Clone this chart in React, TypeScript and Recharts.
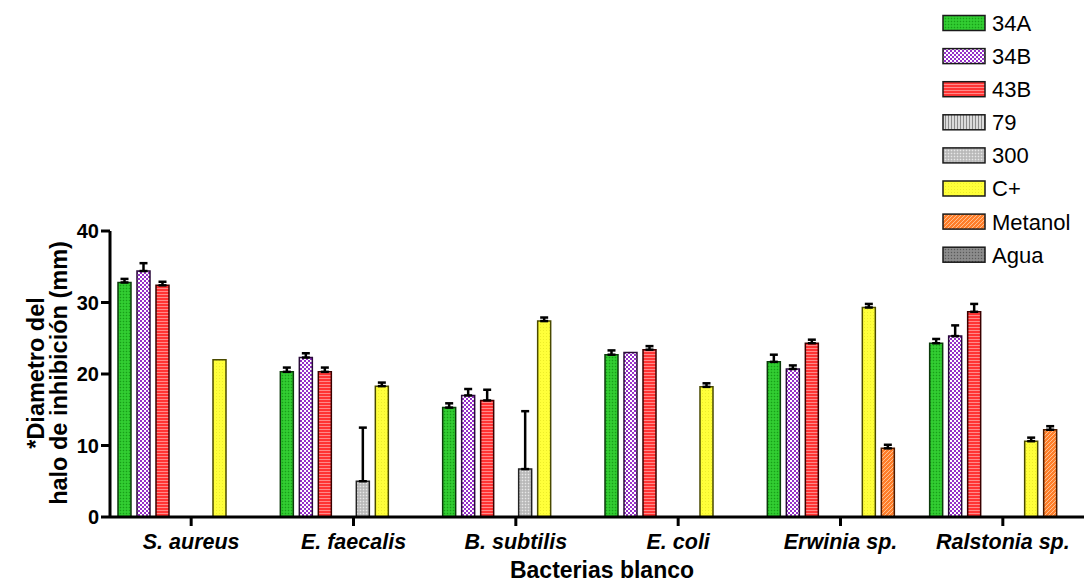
import React from 'react';
import { BarChart, Bar, XAxis, YAxis, ErrorBar } from 'recharts';

const categories = ['S. aureus', 'E. faecalis', 'B. subtilis', 'E. coli', 'Erwinia sp.', 'Ralstonia sp.'];

const values34A = [32.8, 20.3, 15.3, 22.7, 21.7, 24.3];
const err34A = [0.5, 0.6, 0.6, 0.6, 1.0, 0.6];
const values34B = [34.4, 22.3, 17.0, 23.0, 20.7, 25.3];
const err34B = [1.1, 0.6, 0.9, null, 0.5, 1.5];
const values43B = [32.4, 20.3, 16.3, 23.4, 24.3, 28.7];
const err43B = [0.5, 0.6, 1.5, 0.5, 0.5, 1.1];
const values79 = [null, null, null, null, null, null];
const err79 = [null, null, null, null, null, null];
const values300 = [null, 5.0, 6.7, null, null, null];
const err300 = [null, 7.5, 8.1, null, null, null];
const valuesCpos = [22.0, 18.3, 27.4, 18.2, 29.3, 10.6];
const errCpos = [null, 0.5, 0.5, 0.5, 0.5, 0.5];
const valuesMetanol = [null, null, null, null, 9.6, 12.2];
const errMetanol = [null, null, null, null, 0.5, 0.5];
const valuesAgua = [null, null, null, null, null, null];
const errAgua = [null, null, null, null, null, null];

const yTicks = [0, 10, 20, 30, 40];

const series = [
  { key: '34A', values: values34A, errs: err34A, fill: 'url(#p34A)', stroke: '#0b3a0b' },
  { key: '34B', values: values34B, errs: err34B, fill: 'url(#p34B)', stroke: '#2a0a3a' },
  { key: '43B', values: values43B, errs: err43B, fill: 'url(#p43B)', stroke: '#3a0000' },
  { key: '79', values: values79, errs: err79, fill: 'url(#p79)', stroke: '#222222' },
  { key: '300', values: values300, errs: err300, fill: 'url(#p300)', stroke: '#222222' },
  { key: 'C+', values: valuesCpos, errs: errCpos, fill: 'url(#pCpos)', stroke: '#4a4a00' },
  { key: 'Metanol', values: valuesMetanol, errs: errMetanol, fill: 'url(#pMet)', stroke: '#4a1a00' },
  { key: 'Agua', values: valuesAgua, errs: errAgua, fill: 'url(#pAgua)', stroke: '#222222' },
];

const data = categories.map((name, i) => {
  const row: any = { name };
  series.forEach((s) => {
    row[s.key] = s.values[i];
    row[s.key + '_err'] = s.errs[i] == null ? null : [0, s.errs[i]];
  });
  return row;
});

const FONT = '"Liberation Sans", Arial, Helvetica, sans-serif';

const Patterns = () => (
  <defs>
    <pattern id="p34A" width="3" height="3" patternUnits="userSpaceOnUse">
      <rect width="3" height="3" fill="#2bc62b" />
      <rect x="0" y="0" width="1" height="1" fill="#1a9a1a" />
      <rect x="1.5" y="1.5" width="1" height="1" fill="#4ade4a" />
    </pattern>
    <pattern id="p34B" width="4" height="4" patternUnits="userSpaceOnUse">
      <rect width="4" height="4" fill="#ffffff" />
      <rect x="0" y="0" width="2" height="2" fill="#9530c8" />
      <rect x="2" y="2" width="2" height="2" fill="#9530c8" />
    </pattern>
    <pattern id="p43B" width="3" height="3" patternUnits="userSpaceOnUse">
      <rect width="3" height="3" fill="#ff3434" />
      <rect x="0" y="0" width="3" height="1" fill="#ff8a8a" />
    </pattern>
    <pattern id="p79" width="3" height="3" patternUnits="userSpaceOnUse">
      <rect width="3" height="3" fill="#dcdcdc" />
      <rect x="0" y="0" width="1" height="3" fill="#8c8c8c" />
    </pattern>
    <pattern id="p300" width="3" height="3" patternUnits="userSpaceOnUse">
      <rect width="3" height="3" fill="#c4c4c4" />
      <rect x="0" y="0" width="1" height="1" fill="#e8e8e8" />
      <rect x="1.5" y="1.5" width="1" height="1" fill="#9a9a9a" />
    </pattern>
    <pattern id="pCpos" width="3" height="3" patternUnits="userSpaceOnUse">
      <rect width="3" height="3" fill="#ffff3a" />
      <rect x="0" y="0" width="1" height="1" fill="#ecec2a" />
    </pattern>
    <pattern id="pMet" width="4" height="4" patternUnits="userSpaceOnUse">
      <rect width="4" height="4" fill="#ff7e2a" />
      <path d="M0,4 L4,0 M-1,1 L1,-1 M3,5 L5,3" stroke="#ffc090" strokeWidth="1" />
    </pattern>
    <pattern id="pAgua" width="3" height="3" patternUnits="userSpaceOnUse">
      <rect width="3" height="3" fill="#858585" />
      <rect x="0" y="0" width="1" height="1" fill="#5a5a5a" />
      <rect x="1.5" y="1.5" width="1" height="1" fill="#a0a0a0" />
    </pattern>
  </defs>
);

const LegendBlock = () => (
  <g>
    {series.map((s, i) => {
      const cy = 23 + i * 33.1;
      return (
        <g key={s.key}>
          <rect x={943} y={cy - 7.5} width={42} height={15} fill={s.fill} stroke="#1a1a1a" strokeWidth={1.5} />
          <text x={992} y={cy} dy="0.36em" fontSize={22} fontFamily={FONT} fill="#000">
            {s.key}
          </text>
        </g>
      );
    })}
  </g>
);

const AxisTitles = () => (
  <g fontFamily={FONT} fontWeight="bold" fill="#000">
    <text transform="translate(44,373) rotate(-90)" textAnchor="middle" fontSize={23.5}>
      *Diametro del
    </text>
    <text transform="translate(67,373) rotate(-90)" textAnchor="middle" fontSize={23.5}>
      halo de inhibición (mm)
    </text>
    <text x={602} y={578} textAnchor="middle" fontSize={23}>
      Bacterias blanco
    </text>
  </g>
);

export default function App() {
  return (
    <div style={{ position: 'absolute', left: 0, top: 0, width: 1084, height: 583, background: '#fff' }}>
      <BarChart
        width={1084}
        height={583}
        data={data}
        margin={{ top: 231, right: 0, bottom: 0, left: 30 }}
        barCategoryGap={8}
        barGap={6}
      >
        <Patterns />
        <XAxis
          dataKey="name"
          height={66}
          axisLine={{ stroke: '#000', strokeWidth: 3 }}
          tickLine={{ stroke: '#000', strokeWidth: 3 }}
          tickSize={9}
          tickMargin={8}
          interval={0}
          tick={{ fontSize: 21.5, fontWeight: 'bold', fontStyle: 'italic', fill: '#000', fontFamily: FONT }}
        />
        <YAxis
          width={80}
          domain={[0, 40]}
          ticks={yTicks}
          interval={0}
          axisLine={{ stroke: '#000', strokeWidth: 3 }}
          tickLine={{ stroke: '#000', strokeWidth: 3 }}
          tickSize={9}
          tickMargin={2}
          tick={{ fontSize: 20, fontWeight: 'bold', fill: '#000', fontFamily: FONT }}
        />
        {series.map((s) => (
          <Bar
            key={s.key}
            dataKey={s.key}
            fill={s.fill}
            stroke={s.stroke}
            strokeWidth={1.5}
            isAnimationActive={false}
          >
            <ErrorBar dataKey={s.key + '_err'} direction="y" width={4} stroke="#000" strokeWidth={2.5} isAnimationActive={false} />
          </Bar>
        ))}
        <LegendBlock />
        <AxisTitles />
      </BarChart>
    </div>
  );
}
